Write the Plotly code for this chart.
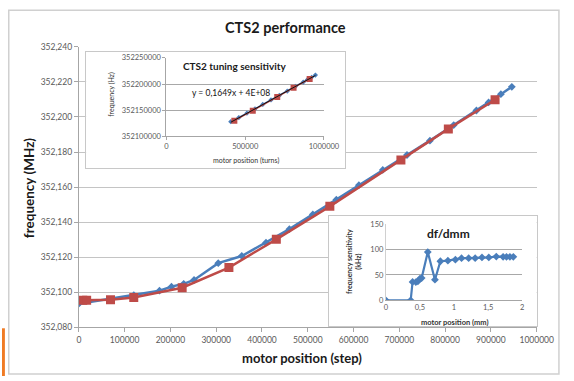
import plotly.graph_objects as go
import numpy as np

W, H = 574, 381

# ---- main chart data (motor position in steps, frequency) ----
blue_x = [0, 120000, 176100, 202300, 229000, 251600, 304400, 355800, 408700, 459800,
          511000, 562400, 611600, 663800, 716700, 766800, 818800, 868300, 894900, 921800, 945700]
blue_y = [352093.5, 352098.3, 352100.9, 352103.2, 352104.8, 352107.0, 352116.6, 352120.7,
          352128.3, 352136.0, 352144.4, 352152.8, 352161.1, 352169.8, 352178.3, 352186.5,
          352195.4, 352203.7, 352208.3, 352213.0, 352217.2]
red_x = [8500, 17000, 69100, 119900, 225600, 327700, 431300, 548200, 703400, 807000, 909100]
red_y = [352095.4, 352095.4, 352095.7, 352097.0, 352102.6, 352114.1, 352130.2, 352149.0,
         352175.4, 352193.2, 352209.8]

main_x_ticks = [0, 100000, 200000, 300000, 400000, 500000, 600000, 700000, 800000, 900000, 1000000]
main_x_labels = ["0", "100000", "200000", "300000", "400000", "500000", "600000",
                 "700000", "800000", "900000", "1000000"]
main_y_ticks = [352080, 352100, 352120, 352140, 352160, 352180, 352200, 352220, 352240]
main_y_labels = ["352,080", "352,100", "352,120", "352,140", "352,160", "352,180",
                 "352,200", "352,220", "352,240"]

# ---- inset 1: tuning sensitivity (Hz) ----
inset1_min_x = 400000
ins1_x_ticks = [0, 500000, 1000000]
ins1_x_labels = ["0", "500000", "1000000"]
ins1_y_ticks = [352100000, 352150000, 352200000, 352250000]
ins1_y_labels = ["352100000", "352150000", "352200000", "352250000"]
equation_text = "y = 0,1649x + 4E+08"

# ---- inset 2: df/dmm ----
dfdmm_x = [0, 0.364, 0.392, 0.44, 0.47, 0.50, 0.525, 0.615, 0.72, 0.80, 0.91, 1.02,
           1.11, 1.215, 1.31, 1.41, 1.51, 1.62, 1.72, 1.77, 1.82, 1.87]
dfdmm_y = [0, 0, 36.3, 36, 37.5, 42.5, 43.8, 95, 40.6, 76.9, 78, 80,
           83, 83, 83, 84.4, 84.4, 86, 85.6, 85.6, 85.6, 85.6]
ins2_x_ticks = [0, 0.5, 1, 1.5, 2]
ins2_x_labels = ["0", "0,5", "1", "1,5", "2"]
ins2_y_ticks = [0, 50, 100, 150]
ins2_y_labels = ["0", "50", "100", "150"]

BLUE = "#4A7EBB"
RED = "#BE4B48"
GRID = "#C4C4C4"
AXL = "#A6A6A6"
TICKC = "#5A5A5A"
FONT = "Lato"


def dx(px):
    return px / W


def dy(py):
    return 1 - py / H


# derived inset-1 data (same measurements, in Hz)
i1_bx = [x for x in blue_x if x >= inset1_min_x]
i1_by = [y * 1000 for x, y in zip(blue_x, blue_y) if x >= inset1_min_x]
i1_rx = [x for x in red_x if x >= inset1_min_x]
i1_ry = [y * 1000 for x, y in zip(red_x, red_y) if x >= inset1_min_x]
fit = np.polyfit(i1_bx + i1_rx, i1_by + i1_ry, 1)
tr_x = [min(i1_bx + i1_rx), max(i1_bx + i1_rx)]
tr_y = [fit[0] * v + fit[1] for v in tr_x]

fig = go.Figure()
# main
fig.add_trace(go.Scatter(x=blue_x, y=blue_y, mode="lines+markers", xaxis="x", yaxis="y",
                         line=dict(color=BLUE, width=2.5),
                         marker=dict(symbol="diamond", size=6, color=BLUE)))
fig.add_trace(go.Scatter(x=red_x, y=red_y, mode="lines+markers", xaxis="x", yaxis="y",
                         line=dict(color=RED, width=2.5),
                         marker=dict(symbol="square", size=9, color=RED)))
# box subplots (white panels)
fig.add_trace(go.Scatter(x=[], y=[], xaxis="x2", yaxis="y2", hoverinfo="skip"))
fig.add_trace(go.Scatter(x=[], y=[], xaxis="x3", yaxis="y3", hoverinfo="skip"))
# inset 1
fig.add_trace(go.Scatter(x=i1_bx, y=i1_by, mode="lines+markers", xaxis="x4", yaxis="y4",
                         line=dict(color=BLUE, width=1.5),
                         marker=dict(symbol="diamond", size=4, color=BLUE)))
fig.add_trace(go.Scatter(x=i1_rx, y=i1_ry, mode="lines+markers", xaxis="x4", yaxis="y4",
                         line=dict(color=RED, width=1.5),
                         marker=dict(symbol="square", size=6, color=RED)))
fig.add_trace(go.Scatter(x=tr_x, y=tr_y, mode="lines", xaxis="x4", yaxis="y4",
                         line=dict(color="#111111", width=1)))
# inset 2
fig.add_trace(go.Scatter(x=dfdmm_x, y=dfdmm_y, mode="lines+markers", xaxis="x5", yaxis="y5",
                         line=dict(color=BLUE, width=2.2),
                         marker=dict(symbol="diamond", size=6, color=BLUE)))

tickfont = dict(family=FONT, size=8.5, color=TICKC)
smallfont = dict(family=FONT, size=7.5, color=TICKC)

box_axis = dict(range=[0, 1], showgrid=False, zeroline=False, showticklabels=False,
                ticks="", showline=True, mirror=True, linecolor="#C8C8C8", linewidth=1,
                fixedrange=True)

fig.update_layout(
    width=W, height=H, margin=dict(l=0, r=0, t=0, b=0),
    paper_bgcolor="white", plot_bgcolor="white", showlegend=False,
    xaxis=dict(domain=[dx(79.5), dx(553)], range=[0, 1000000], tickvals=main_x_ticks,
               ticktext=main_x_labels, ticks="outside", ticklen=4, tickcolor=AXL,
               showline=True, linecolor=AXL, showgrid=False, zeroline=False,
               tickfont=tickfont, anchor="y"),
    yaxis=dict(domain=[dy(331), dy(43)], range=[352080, 352240], tickvals=main_y_ticks,
               ticktext=main_y_labels, ticks="outside", ticklen=4, tickcolor=AXL,
               showline=True, linecolor=AXL, showgrid=True, gridcolor=GRID, zeroline=False,
               tickfont=tickfont, anchor="x"),
    xaxis2=dict(domain=[dx(87), dx(355)], anchor="y2", **box_axis),
    yaxis2=dict(domain=[dy(167), dy(48)], anchor="x2", **box_axis),
    xaxis3=dict(domain=[dx(338), dx(553)], anchor="y3", **box_axis),
    yaxis3=dict(domain=[dy(330), dy(217)], anchor="x3", **box_axis),
    xaxis4=dict(domain=[dx(170), dx(333)], range=[0, 1000000], tickvals=ins1_x_ticks,
                ticktext=ins1_x_labels, ticks="outside", ticklen=3, tickcolor=AXL,
                showline=True, linecolor=AXL, showgrid=False, zeroline=False,
                tickfont=smallfont, anchor="y4"),
    yaxis4=dict(domain=[dy(135), dy(54.3)], range=[352100000, 352250000], tickvals=ins1_y_ticks,
                ticktext=ins1_y_labels, ticks="outside", ticklen=3, tickcolor=AXL,
                showline=True, linecolor=AXL, showgrid=True, gridcolor="#A8A8A8", zeroline=False,
                tickfont=smallfont, anchor="x4"),
    xaxis5=dict(domain=[dx(397), dx(538)], range=[0, 2], tickvals=ins2_x_ticks,
                ticktext=ins2_x_labels, ticks="", showline=True, linecolor=AXL,
                showgrid=False, zeroline=False, tickfont=smallfont, anchor="y5"),
    yaxis5=dict(domain=[dy(303.3), dy(225)], range=[0, 150], tickvals=ins2_y_ticks,
                ticktext=ins2_y_labels, ticks="", showline=True, linecolor="#D0D0D0",
                showgrid=True, gridcolor="#A8A8A8", zeroline=False,
                tickfont=smallfont, anchor="x5"),
)


def ann(text, px, py, size, bold=True, color="#1A1A1A", angle=0):
    t = f"<b>{text}</b>" if bold else text
    fig.add_annotation(text=t, x=dx(px), y=dy(py), xref="paper", yref="paper",
                       showarrow=False, textangle=angle, xanchor="center", yanchor="middle",
                       font=dict(family=FONT, size=size, color=color))


ann("CTS2 performance", 293, 23, 14.5)
ann("frequency (MHz)", 28, 188, 13.5, angle=-90)
ann("motor position (step)", 310, 363, 13)
ann("CTS2 tuning sensitivity", 240, 63, 10)
ann(equation_text, 237, 90, 8.5, bold=False, color="#111111")
ann("motor position (turns)", 252, 160, 7, bold=False, color="#333333")
ann("frequency (Hz)", 113, 92, 7, bold=False, color="#333333", angle=-90)
ann("df/dmm", 462, 235, 12)
ann("frequency sensitivity<br>(kHz)", 364, 263, 7, color="#333333", angle=-90)
ann("motor position (mm)", 468, 326, 7.5, color="#333333")

# outer chart frame and slide accent
fig.add_shape(type="rect", xref="paper", yref="paper", x0=dx(7), x1=dx(576), y0=dy(379), y1=dy(5.5),
              line=dict(color="#D0D0D0", width=1.5), layer="below")
fig.add_shape(type="rect", xref="paper", yref="paper", x0=0, x1=dx(3), y0=0, y1=dy(332),
              line=dict(width=0), fillcolor="#F07B24", layer="below")

fig.write_html("out.html")
